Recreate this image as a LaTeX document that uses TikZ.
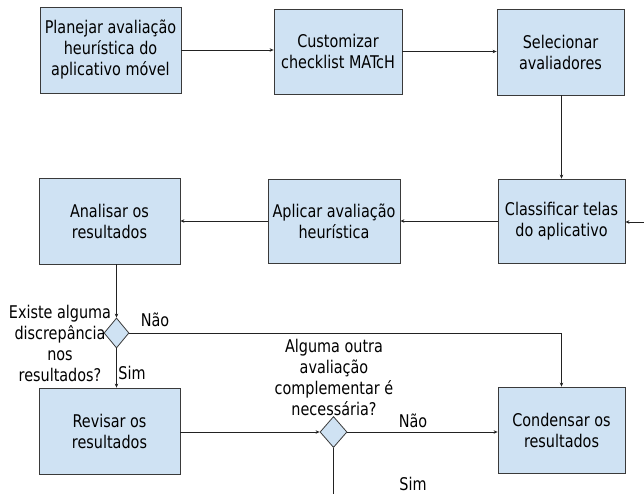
\documentclass[tikz,border=0pt]{standalone}
\usepackage{fontspec}
\setmainfont{DejaVu Sans Condensed}[FakeStretch=0.915]
\usetikzlibrary{shapes.geometric,arrows.meta}
\definecolor{boxfill}{HTML}{CFE2F3}
\definecolor{boxline}{HTML}{3A3A3A}
\definecolor{linecol}{HTML}{222222}
\begin{document}
\begin{tikzpicture}[x=1pt,y=-1pt,
  font=\fontsize{17.5}{21}\selectfont,
  procbox/.style={draw=boxline,fill=boxfill,line width=0.8pt,align=center,inner sep=1pt},
  decbox/.style={draw=boxline,fill=boxfill,line width=0.8pt,diamond,inner sep=0pt},
  conn/.style={draw=linecol,line width=0.8pt,-{Stealth[length=4pt,width=3.5pt]}},
  plain/.style={draw=linecol,line width=0.8pt},
  lbl/.style={align=center,inner sep=0pt}]
\useasboundingbox (0,0) rectangle (644,494);
\node[procbox,minimum width=141pt,minimum height=86pt] (plan) at (110.5,50) {Planejar avaliação\\heurística do\\aplicativo móvel};
\node[procbox,minimum width=128pt,minimum height=85pt] (cust) at (338,51.5) {Customizar\\checklist MATcH};
\node[procbox,minimum width=127pt,minimum height=86pt] (sel) at (560.5,52) {Selecionar\\avaliadores};
\node[procbox,minimum width=141pt,minimum height=86pt] (ana) at (109.5,221) {Analisar os\\resultados};
\node[procbox,minimum width=132pt,minimum height=84pt] (apl) at (334,221) {Aplicar avaliação\\heurística};
\node[procbox,minimum width=127pt,minimum height=84pt] (cla) at (561.5,221) {Classificar telas\\do aplicativo};
\node[procbox,minimum width=141pt,minimum height=86pt] (rev) at (109.5,431) {Revisar os\\resultados};
\node[procbox,minimum width=127pt,minimum height=86pt] (con) at (561.5,430) {Condensar os\\resultados};
\node[decbox,minimum width=25pt,minimum height=30pt] (d1) at (116.5,333) {};
\node[decbox,minimum width=27pt,minimum height=31pt] (d2) at (333.5,432) {};
\coordinate (inR) at (644,222);
\coordinate (outB) at (333.5,494);
\node[lbl] (q1) at (60,343) {Existe alguma\\discrepância\\nos\\resultados?};
\node[lbl] (q2) at (334,377) {Alguma outra\\avaliação\\complementar é\\necessária?};
\node[lbl] (n1) at (155,320) {Não};
\node[lbl] (s1) at (132,373) {Sim};
\node[lbl] (n2) at (413,421) {Não};
\node[lbl] (s2) at (413,484) {Sim};
\draw[conn] (plan.east) -- (plan.east -| cust.west);
\draw[conn] (cust.east) -- (cust.east -| sel.west);
\draw[conn] (sel.south -| cla.north) -- (cla.north);
\draw[conn] (inR) -- (inR -| cla.east);
\draw[conn] (cla.west) -- (apl.east);
\draw[conn] (apl.west) -- (ana.east);
\draw[conn] (ana.south -| d1.north) -- (d1.north);
\draw[conn] (d1.east) -- (d1.east -| con.north) -- (con.north);
\draw[conn] (d1.south) -- (d1.south |- rev.north);
\draw[conn] (rev.east |- d2.west) -- (d2.west);
\draw[conn] (d2.east) -- (d2.east -| con.west);
\draw[plain] (d2.south) -- (outB);
\end{tikzpicture}
\end{document}
